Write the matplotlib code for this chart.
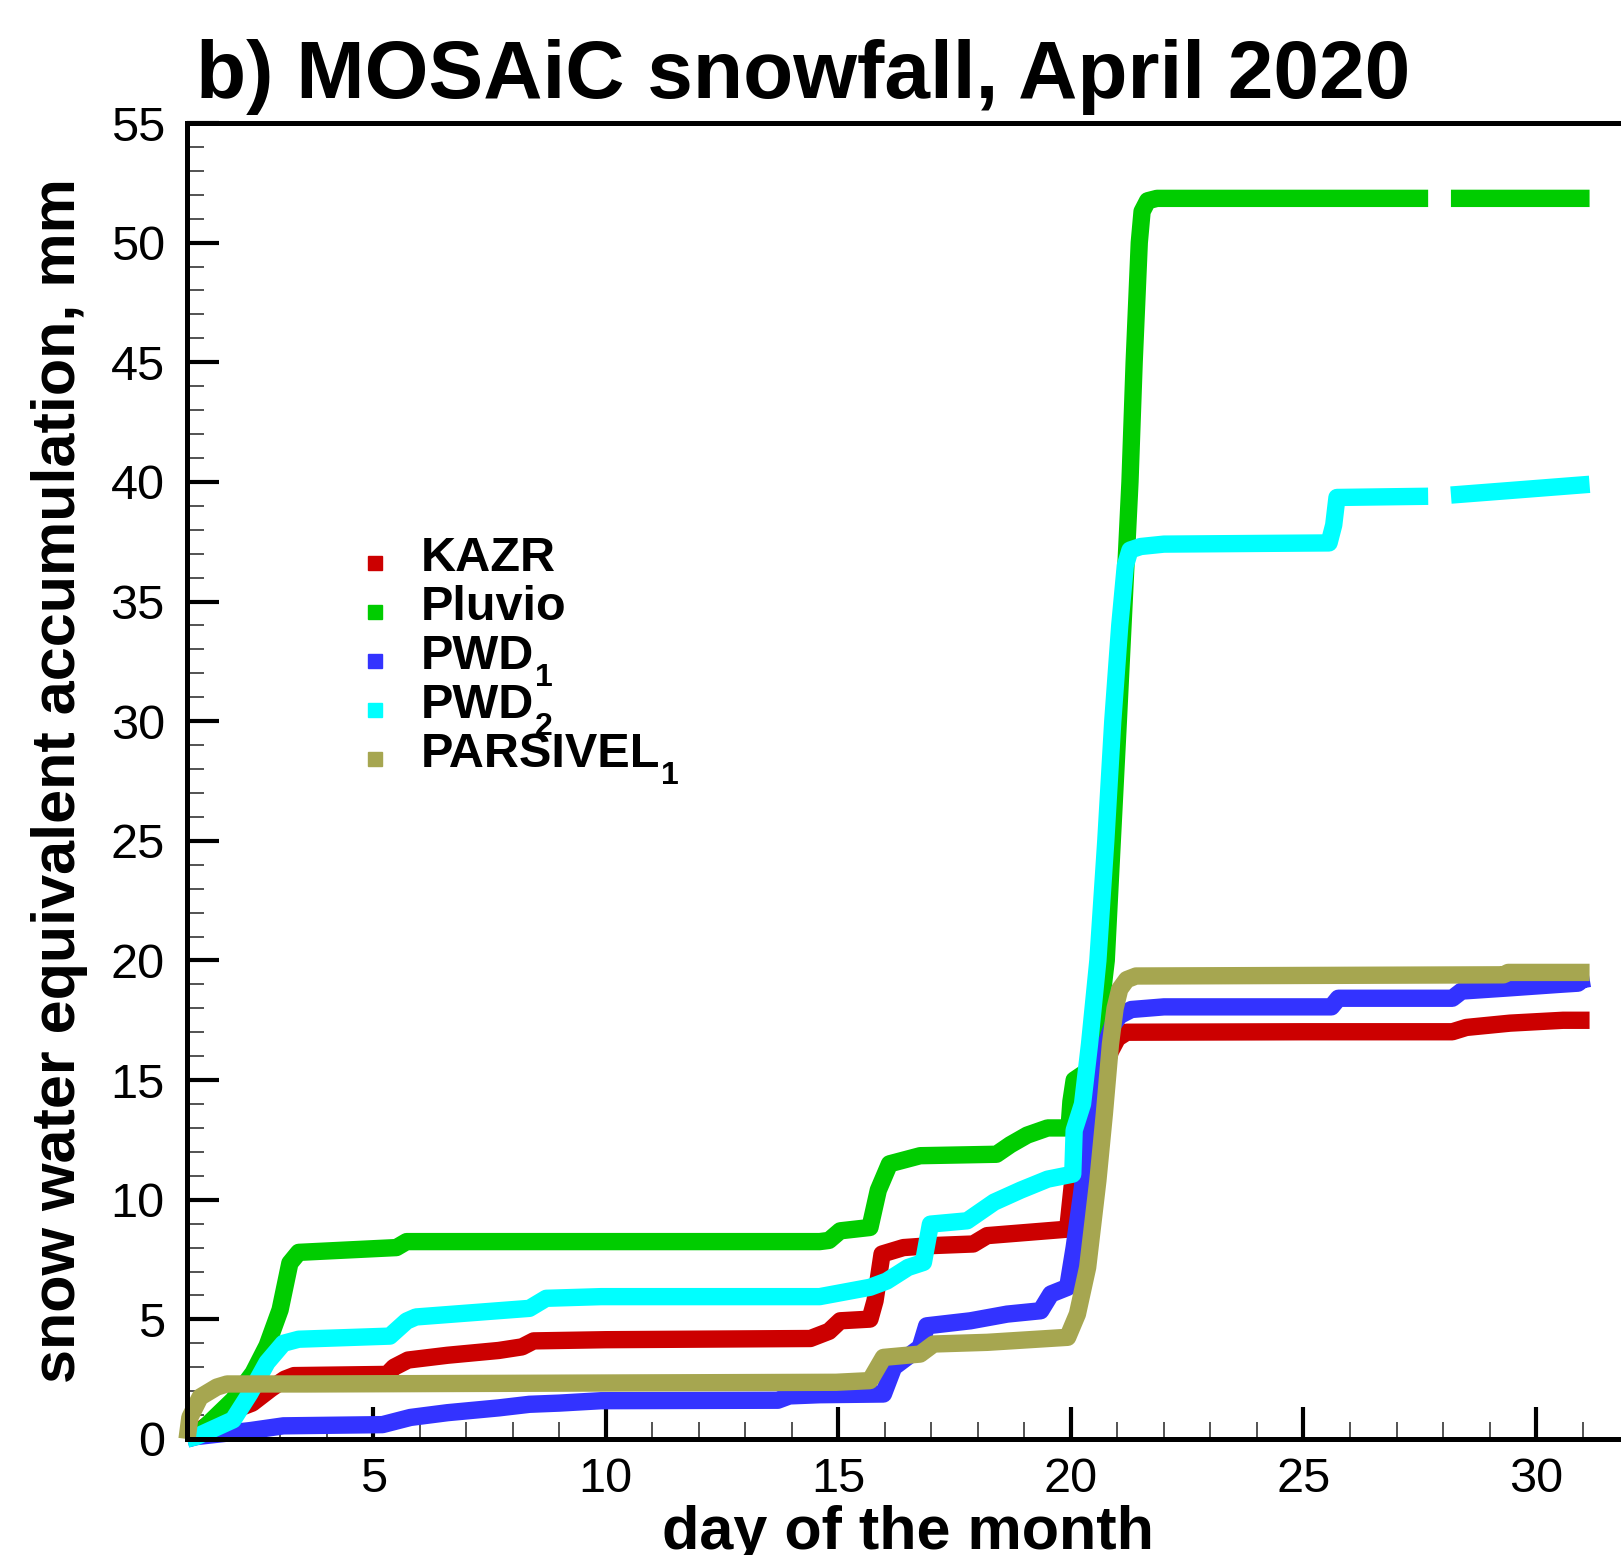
import numpy as np
import matplotlib
matplotlib.use("Agg")
import matplotlib.pyplot as plt
from matplotlib.ticker import MultipleLocator

plt.rcParams['font.family'] = ['Liberation Sans', 'DejaVu Sans']

nan = np.nan

# KAZR
kazr_day = [1.0, 1.3, 1.6, 2.0, 2.4, 2.8, 3.1, 3.3, 5.3, 5.45, 5.75, 6.6, 7.7, 8.2, 8.45,
            10.0, 14.4, 14.8, 15.04, 15.68, 15.79, 15.94, 16.4, 16.98, 17.9, 18.2, 19.93,
            20.04, 20.3, 20.43, 20.55, 20.7, 20.85, 21.0, 21.2, 25.0, 28.2, 28.5, 29.44,
            30.58, 31.15]
kazr_val = [0.0, 0.4, 0.8, 1.2, 1.5, 2.1, 2.5, 2.65, 2.7, 3.0, 3.3, 3.5, 3.7, 3.85, 4.1,
            4.15, 4.2, 4.5, 4.94, 5.01, 5.78, 7.73, 8.0, 8.08, 8.15, 8.5, 8.77,
            10.8, 12.2, 13.3, 14.2, 15.3, 16.2, 16.75, 17.0, 17.02, 17.02, 17.2, 17.38,
            17.5, 17.5]

# Pluvio
pluvio_day = [1.0, 1.2, 1.6, 1.99, 2.42, 2.72, 3.0, 3.21, 3.4, 5.5, 5.72, 14.6, 14.8, 15.04,
              15.68, 15.86, 16.1, 16.76, 18.4, 18.7, 19.06, 19.5, 19.96, 20.0, 20.07, 20.45,
              20.55, 20.76, 21.02, 21.27, 21.36, 21.47, 21.53, 21.65, 21.85, 27.68, 27.69,
              28.17, 31.15]
pluvio_val = [0.0, 0.14, 0.9, 1.63, 2.76, 3.9, 5.4, 7.35, 7.8, 8.0, 8.25, 8.25, 8.3, 8.7,
              8.84, 10.4, 11.5, 11.84, 11.9, 12.3, 12.7, 13.0, 13.0, 14.1, 15.0, 15.5,
              16.5, 20.0, 30.0, 40.0, 45.0, 50.0, 51.3, 51.75, 51.85, 51.85, nan,
              51.85, 51.85]

# PWD1
pwd1_day = [1.0, 1.2, 2.35, 3.07, 5.2, 5.8, 6.6, 7.7, 8.36, 9.0, 9.9, 13.7, 13.95, 14.6,
            15.97, 16.19, 16.76, 16.9, 17.84, 18.63, 19.35, 19.57, 19.93, 20.07, 20.22,
            20.36, 20.58, 20.75, 20.9, 21.05, 21.3, 22.0, 25.6, 25.75, 28.2, 28.4, 29.4,
            30.5, 30.9, 31.0, 31.15]
pwd1_val = [0.0, 0.1, 0.35, 0.55, 0.6, 0.9, 1.1, 1.3, 1.45, 1.5, 1.6, 1.62, 1.8, 1.85,
            1.88, 3.0, 3.83, 4.73, 4.94, 5.22, 5.36, 6.06, 6.34, 8.0, 10.1,
            12.2, 15.0, 16.5, 17.3, 17.7, 17.95, 18.06, 18.06, 18.42, 18.42, 18.72, 18.85,
            19.0, 19.05, 19.2, 19.25]

# PWD2
pwd2_day = [1.0, 1.2, 1.99, 2.35, 2.72, 3.07, 3.4, 5.36, 5.72, 5.92, 8.36, 8.72, 9.9,
            14.6, 15.68, 16.04, 16.5, 16.83, 16.98, 17.77, 18.35, 18.92, 19.5, 20.04,
            20.07, 20.25, 20.4, 20.58, 20.75, 20.9, 21.05, 21.17, 21.27, 21.5, 22.0, 25.55,
            25.65, 25.72, 27.68, 27.69, 28.17, 29.5, 31.15]
pwd2_val = [0.0, 0.1, 0.8, 1.9, 3.2, 4.0, 4.17, 4.3, 4.93, 5.1, 5.46, 5.88, 5.95,
            5.95, 6.34, 6.6, 7.17, 7.38, 8.98, 9.12, 9.9, 10.4, 10.86, 11.07,
            12.9, 14.0, 16.5, 20.0, 25.0, 30.0, 34.0, 36.5, 37.15, 37.3, 37.4, 37.45,
            38.2, 39.35, 39.4, nan, 39.45, 39.65, 39.9]

# PARSIVEL1
pars_day = [1.0, 1.06, 1.28, 1.64, 1.86, 3.57, 14.95, 15.68, 15.97, 16.76, 17.05, 18.2,
            19.93, 20.14, 20.36, 20.47, 20.58, 20.72, 20.85, 20.95, 21.05, 21.2, 21.4,
            29.3, 29.4, 31.15]
pars_val = [0.0, 0.9, 1.75, 2.17, 2.3, 2.3, 2.37, 2.44, 3.41, 3.55, 3.97, 4.04,
            4.25, 5.22, 7.17, 8.98, 10.8, 13.6, 16.5, 18.0, 18.8, 19.2, 19.35,
            19.4, 19.5, 19.5]

# name, subscript, data, colour
series = [
    ('KAZR', '', kazr_day, kazr_val, '#CC0000'),
    ('Pluvio', '', pluvio_day, pluvio_val, '#00CC00'),
    ('PWD', '1', pwd1_day, pwd1_val, '#3333FF'),
    ('PWD', '2', pwd2_day, pwd2_val, '#00FFFF'),
    ('PARSIVEL', '1', pars_day, pars_val, '#A6A650'),
]

fig = plt.figure(figsize=(16.21, 15.55), dpi=100)
ax = fig.add_axes([0.1154, 0.0746, 0.8896, 0.8463])

for name, sub, d, v, c in series:
    ax.plot(d, v, color=c, lw=12.5, solid_capstyle='butt', solid_joinstyle='round', clip_on=False)

ax.set_xlim(1, 32)
ax.set_ylim(0, 55)
ax.xaxis.set_major_locator(MultipleLocator(5))
ax.xaxis.set_minor_locator(MultipleLocator(1))
ax.yaxis.set_major_locator(MultipleLocator(5))
ax.yaxis.set_minor_locator(MultipleLocator(1))
ax.tick_params(which='both', direction='in', top=False, right=False, labelsize=35)
ax.tick_params(which='major', length=23, width=3)
ax.tick_params(which='minor', length=12, width=1.3, color='#444444')
ax.tick_params(axis='x', pad=13)
ax.tick_params(axis='y', pad=16)

for s in ['left', 'bottom', 'top']:
    ax.spines[s].set_linewidth(3.6)
ax.spines['right'].set_visible(False)

ax.set_xlabel('day of the month', fontsize=44, fontweight='bold', va='baseline')
ax.xaxis.set_label_coords(0.5, -0.0836)
ax.set_ylabel('snow water equivalent accumulation, mm', fontsize=44, fontweight='bold')
ax.yaxis.set_label_coords(-0.0687, 0.5)

fig.text(0.121, 0.937, 'b) MOSAiC snowfall, April 2020', fontsize=59, fontweight='bold',
         va='baseline', ha='left')

# legend
for i, (name, sub, d, v, c) in enumerate(series):
    yb = 0.6596 - i * 0.0372
    ax.plot([0.130], [yb + 0.0061], 's', color=c, ms=9.5, transform=ax.transAxes, clip_on=False)
    t = ax.text(0.162, yb, name, transform=ax.transAxes, fontsize=35, fontweight='bold',
                va='baseline', ha='left')
    if sub:
        ax.annotate(sub, xy=(1, 0), xycoords=t, xytext=(1, -5), textcoords='offset points',
                    fontsize=23, fontweight='bold', va='baseline', ha='left')

fig.savefig('out.png', dpi=100)
